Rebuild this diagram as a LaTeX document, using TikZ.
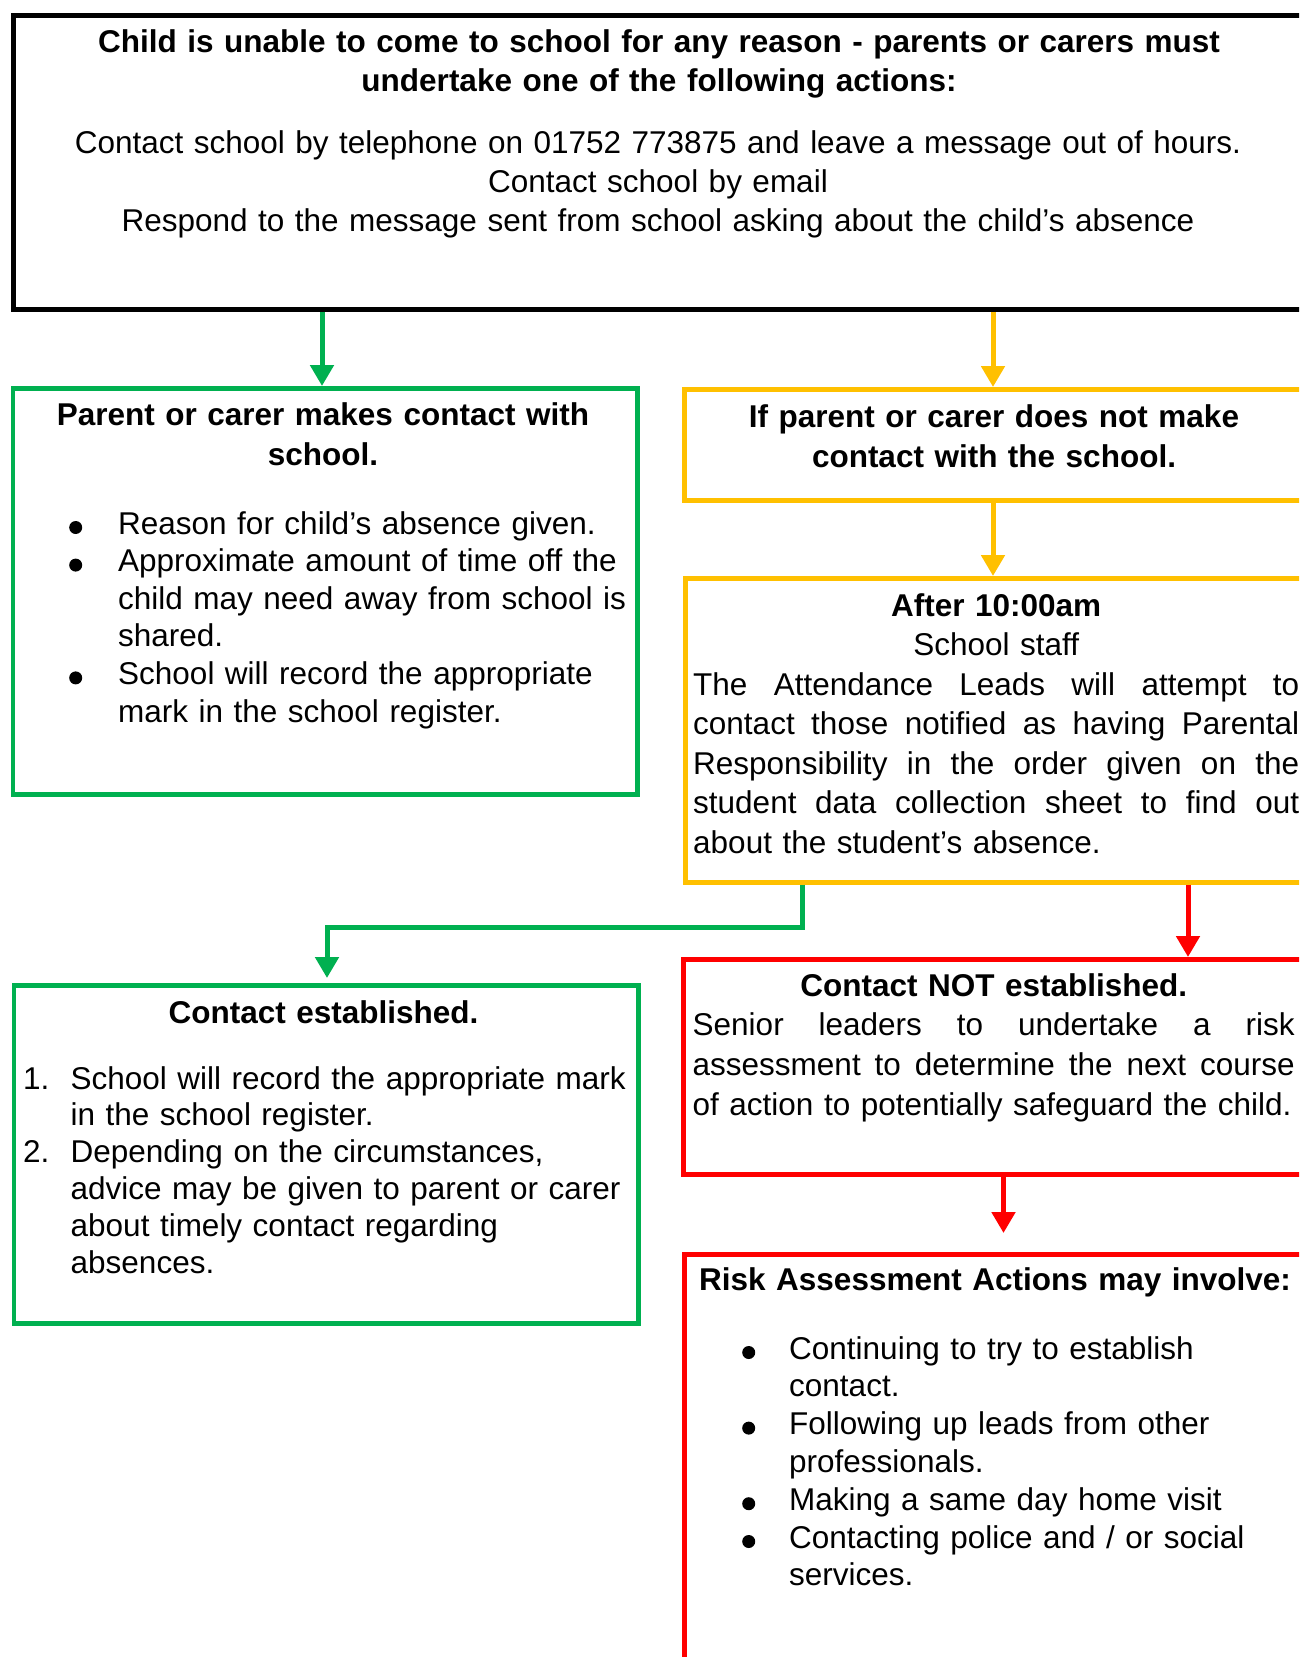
\documentclass[tikz,border=0pt]{standalone}
\usepackage{fontspec}
\setmainfont{Liberation Sans}
\usetikzlibrary{arrows.meta}
\definecolor{cgreen}{HTML}{00B050}
\definecolor{cyellow}{HTML}{FFC000}
\definecolor{cred}{HTML}{FF0000}
\newcommand{\setfs}[1]{\fontsize{31.5pt}{#1pt}\selectfont}
\newcommand{\litem}[2]{\hangindent=#1\hangafter=1\noindent\makebox[#1][l]{#2}}
\newcommand{\jline}[2]{\hbox to #1{#2}\newline}
\newcommand{\bdot}{\tikz[baseline=0pt]\fill (7.5pt,6.5pt) circle[radius=6.5pt];}
\tikzset{
  box/.style={draw, rectangle, inner sep=0pt, anchor=north west},
  blackbox/.style={box, draw=black, line width=5pt},
  greenbox/.style={box, draw=cgreen, line width=4.5pt},
  yellowbox/.style={box, draw=cyellow, line width=4.5pt},
  redbox/.style={box, draw=cred, line width=4.5pt},
  txt/.style={inner sep=0pt, font=\setfs{39.5}, text width=#1},
  conn/.style={line width=5pt, -{Triangle[width=23pt,length=21pt]}},
}
\begin{document}
\begin{tikzpicture}[x=1pt,y=-1pt]
\useasboundingbox (0,0) rectangle (1299,1657);
\clip (0,0) rectangle (1299,1657);

% boxes
\node[blackbox, minimum width=1296pt, minimum height=294.5pt] (top) at (10.5,12.5) {};
\node[greenbox, minimum width=624.5pt, minimum height=406pt] (g1) at (10.5,386) {};
\node[yellowbox, minimum width=626pt, minimum height=111pt] (y1) at (682,387) {};
\node[yellowbox, minimum width=625pt, minimum height=304pt] (y2) at (683,576) {};
\node[redbox, minimum width=625pt, minimum height=215pt] (r1) at (681,957) {};
\node[redbox, minimum width=624pt, minimum height=468pt] (r2) at (682,1252) {};
\node[greenbox, minimum width=624.5pt, minimum height=338pt] (g2) at (11.5,983) {};

% texts
\node[txt=1250pt, anchor=base] (toptitle) at (659,52)
  {\centering\bfseries Child is unable to come to school for any reason - parents or carers must\\
   undertake one of the following actions:\par};
\node[txt=1250pt, anchor=base] (topbody) at (658,153)
  {\setfs{39}\centering Contact school by telephone on 01752 773875 and leave a message out of hours.\\
   Contact school by email\\
   Respond to the message sent from school asking about the child’s absence\par};

\node[txt=620pt, anchor=base] (g1title) at (323,425)
  {\setfs{40}\centering\bfseries Parent or carer makes contact with\\ school.\par};
\node[txt=600pt, anchor=base west] (g1list) at (69,534)
  {\setfs{37.6}\raggedright
   \litem{49pt}{\bdot}Reason for child’s absence given.\par
   \litem{49pt}{\bdot}Approximate amount of time off the\newline child may need away from school is\newline shared.\par
   \litem{49pt}{\bdot}School will record the appropriate\newline mark in the school register.\par};

\node[txt=620pt, anchor=base] (y1title) at (994,427)
  {\setfs{40}\centering\bfseries If parent or carer does not make\\ contact with the school.\par};

\node[txt=606pt, anchor=base west] (y2text) at (693,616)
  {{\centering\textbf{After 10:00am}\\ School staff\par}
   \noindent\jline{606pt}{The \hfill Attendance \hfill Leads \hfill will \hfill attempt \hfill to}%
   \jline{606pt}{contact \hfill those \hfill notified \hfill as \hfill having \hfill Parental}%
   \jline{606pt}{Responsibility \hfill in \hfill the \hfill order \hfill given \hfill on \hfill the}%
   \jline{606pt}{student \hfill data \hfill collection \hfill sheet \hfill to \hfill find \hfill out}%
   about the student’s absence.\par};

\node[txt=602pt, anchor=base west] (r1text) at (692.5,996)
  {\setfs{39.7}{\centering\textbf{Contact NOT established.}\par}
   \noindent\jline{602pt}{Senior \hfill leaders \hfill to \hfill undertake \hfill a \hfill risk}%
   \jline{602pt}{assessment \hfill to \hfill determine \hfill the \hfill next \hfill course}%
   of action to potentially safeguard the child.\par};

\node[txt=620pt, anchor=base west] (r2title) at (699,1290)
  {\raggedright\bfseries Risk Assessment Actions may involve:\par};
\node[txt=560pt, anchor=base west] (r2list) at (742,1359)
  {\setfs{37.8}\raggedright
   \litem{47pt}{\bdot}Continuing to try to establish\newline contact.\par
   \litem{47pt}{\bdot}Following up leads from other\newline professionals.\par
   \litem{47pt}{\bdot}Making a same day home visit\par
   \litem{47pt}{\bdot}Contacting police and / or social\newline services.\par};

\node[txt=620pt, anchor=base] (g2title) at (323.5,1023)
  {\centering\bfseries Contact established.\par};
\node[txt=640pt, anchor=base west] (g2list) at (23,1089)
  {\setfs{36.8}\raggedright
   \litem{47.5pt}{1.}School will record the appropriate mark\newline in the school register.\par
   \litem{47.5pt}{2.}Depending on the circumstances,\newline advice may be given to parent or carer\newline about timely contact regarding\newline absences.\par};

% connectors
\coordinate (gx) at (322,0);
\coordinate (ya) at (993,0);
\coordinate (gb) at (802,0);
\coordinate (gc) at (327,927);
\coordinate (ra) at (1188,0);
\coordinate (rb) at (1003.5,0);
\draw[conn, color=cgreen] (top.south -| gx) -- (g1.north -| gx);
\draw[conn, color=cyellow] (top.south -| ya) -- (y1.north -| ya);
\draw[conn, color=cyellow] (y1.south -| ya) -- (y2.north -| ya);
\draw[conn, color=cgreen, shorten >=5pt] (y2.south -| gb) |- (gc) -- (g2.north -| gc);
\draw[conn, color=cred] (y2.south -| ra) -- (r1.north -| ra);
\draw[conn, color=cred, shorten >=19pt] (r1.south -| rb) -- (r2.north -| rb);
\end{tikzpicture}
\end{document}
